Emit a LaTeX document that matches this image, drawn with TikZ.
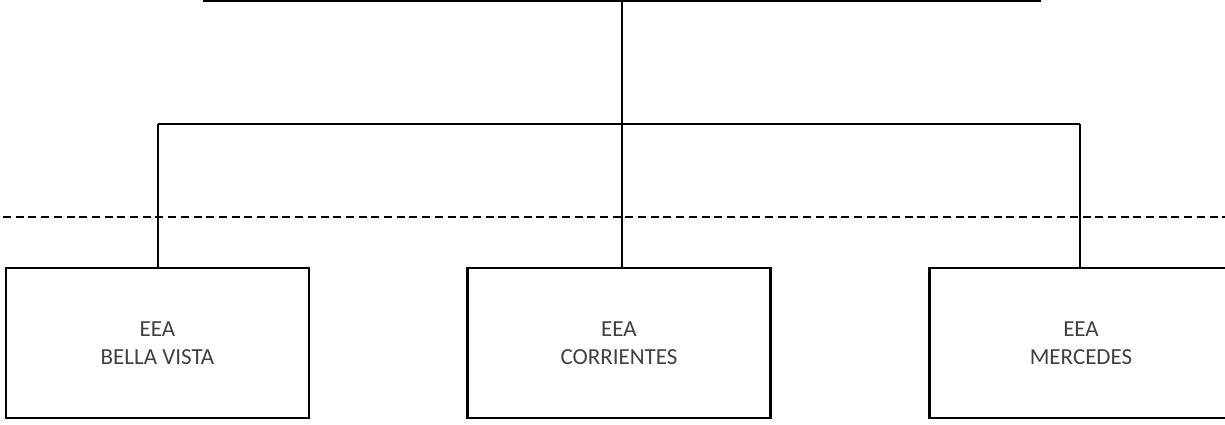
\documentclass[tikz,border=0pt]{standalone}
\usepackage{fontspec}
\setmainfont{Carlito}
\definecolor{txt}{HTML}{404040}
\begin{document}
\begin{tikzpicture}[x=1pt,y=-1pt,line width=2pt,
  box/.style={draw,line width=2.5pt,minimum width=303pt,minimum height=150pt,inner sep=0pt,align=center,
    font=\fontsize{23}{28}\selectfont,text=txt},
  link/.style={draw,line width=2pt}]
\useasboundingbox (0,0) rectangle (1225,425);
\clip (0,0) rectangle (1225,425);
% boxes
\node[box] (bv) at (157.5,343) {EEA\\BELLA VISTA};
\node[box] (co) at (619,343) {EEA\\CORRIENTES};
\node[box] (me) at (1081,343) {EEA\\MERCEDES};
% top bar
\coordinate (tl) at (203,1);
\coordinate (tr) at (1041,1);
\coordinate (tm) at (622,1);
\draw[link] (tl) -- (tr);
\draw[link] (tm) -- (tm |- co.north);
% middle bar
\coordinate (ml) at (157.5,124);
\coordinate (mr) at (1080,124);
\draw[link] (ml) -- (mr);
\draw[link] (ml) -- (bv.north);
\draw[link] (mr) -- (mr |- me.north);
% dashed line
\coordinate (dl) at (3,217);
\coordinate (dr) at (1225,217);
\draw[line width=2pt,dash pattern=on 8pt off 4.7pt] (dl) -- (dr);
\end{tikzpicture}
\end{document}
